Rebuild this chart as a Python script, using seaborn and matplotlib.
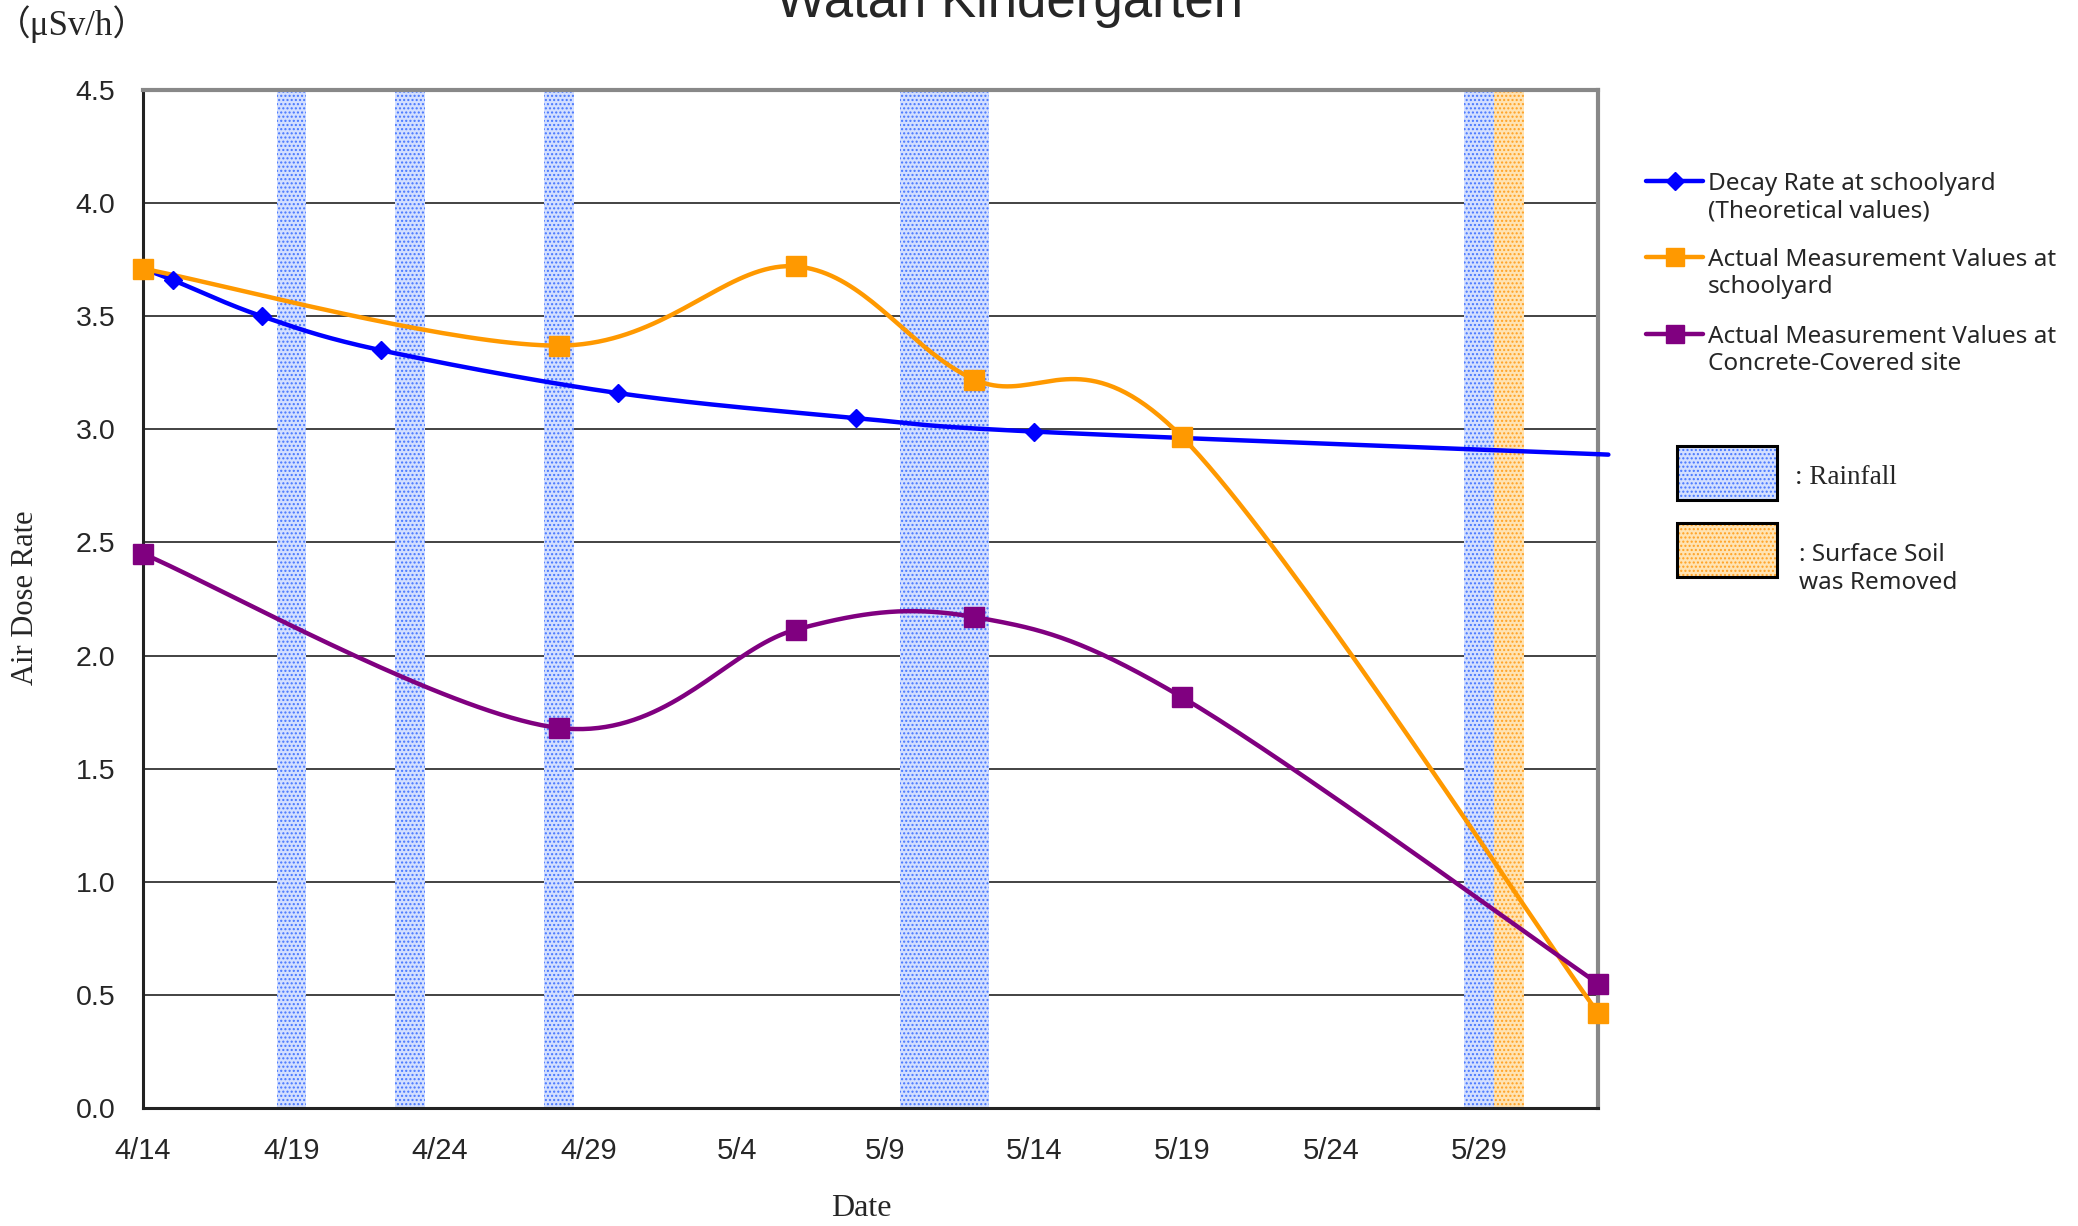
import numpy as np
import pandas as pd
import seaborn as sns
import matplotlib.pyplot as plt
from matplotlib.lines import Line2D
from matplotlib.patches import Rectangle
from matplotlib.ticker import MultipleLocator, FuncFormatter

# ---- data ----
decay_dates = ['4/14', '4/15', '4/18', '4/22', '4/30', '5/8', '5/14', '6/2']
decay_vals = [3.71, 3.66, 3.50, 3.35, 3.16, 3.05, 2.99, 2.89]
decay_marked = [False, True, True, True, True, True, True, False]

meas_dates = ['4/14', '4/28', '5/6', '5/12', '5/19', '6/2']
schoolyard = [3.71, 3.37, 3.72, 3.22, 2.965, 0.42]
concrete = [2.45, 1.68, 2.115, 2.17, 1.815, 0.55]

rain_dates = ['4/19', '4/23', '4/28', '5/10', '5/11', '5/12', '5/29']
soil_dates = ['5/30']

start = pd.Timestamp('2011-04-14')


def to_day(d):
    return (pd.to_datetime('2011/' + d) - start).days


def smooth(xs, ys, n=40):
    # Excel-style smoothed line (Catmull-Rom as cubic bezier)
    p = np.column_stack([xs, ys]).astype(float)
    p = np.vstack([p[0], p, p[-1]])
    out = []
    for i in range(1, len(p) - 2):
        p0, p1, p2, p3 = p[i - 1], p[i], p[i + 1], p[i + 2]
        c1 = p1 + (p2 - p0) / 6
        c2 = p2 - (p3 - p1) / 6
        t = np.linspace(0, 1, n)[:, None]
        out.append((1 - t) ** 3 * p1 + 3 * (1 - t) ** 2 * t * c1
                   + 3 * (1 - t) * t ** 2 * c2 + t ** 3 * p2)
    return np.vstack(out)


decay_x = [to_day(d) for d in decay_dates]
meas_x = [to_day(d) for d in meas_dates]

sns.set_style('white')
plt.rcParams['font.family'] = ['Liberation Sans', 'DejaVu Sans']
plt.rcParams['hatch.linewidth'] = 1.0
gothic = ['Noto Sans', 'DejaVu Sans']
serif = ['Liberation Serif', 'Noto Sans CJK JP', 'DejaVu Serif']

BLUE = '#0000FF'
ORANGE = '#FF9900'
PURPLE = '#800080'
RAIN_BG, RAIN_DOT = '#d3dfff', '#4676ff'
SOIL_BG, SOIL_DOT = '#ffe3b3', '#ffa122'

fig = plt.figure(figsize=(20.78, 12.26), dpi=100)
ax = fig.add_axes([0.0688, 0.0963, 0.7002, 0.8303])

# rainfall / soil removal bands
for d in rain_dates:
    x = to_day(d)
    ax.axvspan(x - 0.5, x + 0.5, facecolor=RAIN_BG, edgecolor=RAIN_DOT,
               hatch='....', linewidth=0, zorder=1)
for d in soil_dates:
    x = to_day(d)
    ax.axvspan(x - 0.5, x + 0.5, facecolor=SOIL_BG, edgecolor=SOIL_DOT,
               hatch='....', linewidth=0, zorder=1)

# horizontal gridlines (under the bands)
for y in np.arange(0.5, 4.5, 0.5):
    ax.axhline(y, color='#222222', lw=1.2, zorder=0.8)

# smoothed lines
series = [
    (decay_x, decay_vals, BLUE),
    (meas_x, schoolyard, ORANGE),
    (meas_x, concrete, PURPLE),
]
for xs, ys, col in series:
    s = smooth(xs, ys)
    df = pd.DataFrame({'day': s[:, 0], 'val': s[:, 1]})
    sns.lineplot(data=df, x='day', y='val', sort=False, estimator=None,
                 color=col, lw=3.2, ax=ax, zorder=3)

# blue line runs a little past the plot edge
ax.plot([decay_x[-1], decay_x[-1] + 0.35], [decay_vals[-1], decay_vals[-1] - 0.002],
        color=BLUE, lw=3.2, clip_on=False, zorder=3)

# markers
mk = pd.DataFrame({'day': decay_x, 'val': decay_vals, 'm': decay_marked})
mk = mk[mk['m']]
ax.plot(mk['day'], mk['val'], ls='none', marker='D', ms=9, color=BLUE,
        zorder=4, clip_on=False)
ax.plot(meas_x, schoolyard, ls='none', marker='s', ms=15, color=ORANGE,
        zorder=5, clip_on=False)
ax.plot(meas_x, concrete, ls='none', marker='s', ms=15, color=PURPLE,
        zorder=5, clip_on=False)

# axes
ax.set_xlim(0, 49)
ax.set_ylim(0, 4.5)
ax.set_xlabel('')
ax.set_ylabel('')
ax.xaxis.set_major_locator(MultipleLocator(5))
ax.xaxis.set_minor_locator(MultipleLocator(1))
ax.yaxis.set_major_locator(MultipleLocator(0.5))
ax.yaxis.set_minor_locator(MultipleLocator(0.1))


def date_fmt(v, pos):
    d = start + pd.Timedelta(days=int(round(v)))
    return f'{d.month}/{d.day}'


ax.xaxis.set_major_formatter(FuncFormatter(date_fmt))
ax.yaxis.set_major_formatter(FuncFormatter(lambda v, p: f'{v:.1f}'))
ax.tick_params(axis='both', which='both', direction='in', color='#111111',
               width=1.3)
ax.tick_params(axis='x', which='major', length=12, pad=21, labelsize=21)
ax.tick_params(axis='x', which='minor', length=7)
ax.tick_params(axis='y', which='major', length=10, pad=20, labelsize=20.5)
ax.tick_params(axis='y', which='minor', length=7)

for side in ['left', 'bottom']:
    ax.spines[side].set_color('#222222')
    ax.spines[side].set_linewidth(2.2)
for side in ['top', 'right']:
    ax.spines[side].set_color('#888888')
    ax.spines[side].set_linewidth(3)
    ax.spines[side].set_visible(True)

# texts
W, H = 2078, 1226
fig.text(1009 / W, 1 - 17 / H, 'Watari Kindergarten', ha='center', va='baseline',
         fontsize=38)
fig.text(72 / W, 1 - 24 / H, '（μSv/h）', ha='center', va='center',
         fontsize=25, family=serif)
fig.text(26 / W, 1 - 598 / H, 'Air Dose Rate', ha='center', va='center',
         rotation=90, fontsize=22, family=serif)
fig.text(861 / W, 1 - 1208 / H, 'Date', ha='center', va='center',
         fontsize=23, family=serif)

# legend drawn by hand
leg = [
    (BLUE, 'D', 9, 'Decay Rate at schoolyard\n(Theoretical values)', 181),
    (ORANGE, 's', 13, 'Actual Measurement Values at\nschoolyard', 257),
    (PURPLE, 's', 13, 'Actual Measurement Values at\nConcrete-Covered site', 334),
]
for col, m, ms, label, yp in leg:
    fy = 1 - yp / H
    fig.add_artist(Line2D([1646 / W, 1703 / W], [fy, fy], color=col, lw=3.2,
                          transform=fig.transFigure))
    fig.add_artist(Line2D([1675 / W], [fy], marker=m, ms=ms, color=col,
                          transform=fig.transFigure))
    fig.text(1708 / W, fy + 9 / H, label, ha='left', va='top', fontsize=17.5,
             family=gothic, linespacing=1.17)

for y0, bg, dot in [(500, RAIN_BG, RAIN_DOT), (577, SOIL_BG, SOIL_DOT)]:
    fig.add_artist(Rectangle((1677 / W, 1 - y0 / H), 100 / W, 54 / H,
                             transform=fig.transFigure, facecolor=bg,
                             edgecolor=dot, hatch='....', lw=0))
    fig.add_artist(Rectangle((1677 / W, 1 - y0 / H), 100 / W, 54 / H,
                             transform=fig.transFigure, facecolor='none',
                             edgecolor='black', lw=2.2))
fig.text(1795 / W, 1 - 478 / H, ': Rainfall', ha='left', va='center',
         fontsize=19.5, family=serif)
fig.text(1799 / W, 1 - 569 / H, ': Surface Soil\nwas Removed', ha='left',
         va='center', fontsize=17.5, family=gothic, linespacing=1.17)

fig.savefig('out.png', dpi=100)
